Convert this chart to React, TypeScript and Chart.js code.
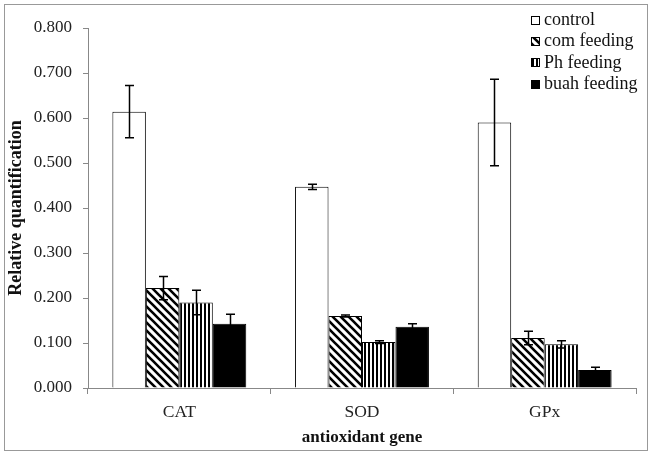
import React, { useEffect, useRef } from "react";
import { Chart, registerables } from "chart.js";

Chart.register(...registerables);

const categories = ["CAT", "SOD", "GPx"];
const seriesNames = ["control", "com feeding", "Ph feeding", "buah feeding"];
const controlValues = [0.614, 0.447, 0.59];
const controlErrors = [0.058, 0.006, 0.096];
const comValues = [0.222, 0.16, 0.111];
const comErrors = [0.026, 0.002, 0.015];
const phValues = [0.19, 0.102, 0.097];
const phErrors = [0.027, 0.003, 0.008];
const buahValues = [0.143, 0.136, 0.04];
const buahErrors = [0.021, 0.007, 0.006];
const yMin = 0;
const yMax = 0.8;
const yStep = 0.1;
const yTitle = "Relative quantification";
const xTitle = "antioxidant gene";

const SERIF = "'Liberation Serif', 'Times New Roman', serif";

function makeDiagonal(): CanvasPattern | string {
  const c = document.createElement("canvas");
  c.width = 8;
  c.height = 8;
  const g = c.getContext("2d");
  if (!g) return "#888";
  g.fillStyle = "#fff";
  g.fillRect(0, 0, 8, 8);
  g.strokeStyle = "#000";
  g.lineWidth = 2.6;
  g.beginPath();
  for (const k of [-8, 0, 8]) {
    g.moveTo(k - 2, -2);
    g.lineTo(k + 10, 10);
  }
  g.stroke();
  return g.createPattern(c, "repeat") || "#888";
}

function makeVertical(): CanvasPattern | string {
  const c = document.createElement("canvas");
  c.width = 4;
  c.height = 4;
  const g = c.getContext("2d");
  if (!g) return "#888";
  g.fillStyle = "#fff";
  g.fillRect(0, 0, 4, 4);
  g.fillStyle = "#000";
  g.fillRect(0, 0, 2, 4);
  return g.createPattern(c, "repeat") || "#888";
}

export default function App() {
  const ref = useRef<HTMLCanvasElement | null>(null);

  useEffect(() => {
    if (!ref.current) return;
    const fills = ["#ffffff", makeDiagonal(), makeVertical(), "#000000"];
    const values = [controlValues, comValues, phValues, buahValues];
    const errors = [controlErrors, comErrors, phErrors, buahErrors];

    const errorBars = {
      id: "errorBars",
      afterDatasetsDraw(chart: any) {
        const ctx = chart.ctx;
        const ys = chart.scales.y;
        ctx.save();
        ctx.strokeStyle = "#000";
        ctx.lineWidth = 1.5;
        chart.data.datasets.forEach((ds: any, di: number) => {
          const meta = chart.getDatasetMeta(di);
          meta.data.forEach((bar: any, i: number) => {
            const v = ds.data[i];
            const e = ds.errors[i];
            const x = Math.round(bar.x) + 0.5;
            const yt = ys.getPixelForValue(v + e);
            const yb = ys.getPixelForValue(v - e);
            ctx.beginPath();
            ctx.moveTo(x, yt);
            ctx.lineTo(x, yb);
            ctx.moveTo(x - 4.5, yt);
            ctx.lineTo(x + 4.5, yt);
            ctx.moveTo(x - 4.5, yb);
            ctx.lineTo(x + 4.5, yb);
            ctx.stroke();
          });
        });
        ctx.restore();
      },
    };

    const legendPlugin = {
      id: "customLegend",
      afterDraw(chart: any) {
        const ctx = chart.ctx;
        ctx.save();
        ctx.font = `18px ${SERIF}`;
        ctx.textBaseline = "middle";
        ctx.textAlign = "left";
        chart.data.datasets.forEach((ds: any, i: number) => {
          const y = 20.5 + i * 21.2;
          ctx.fillStyle = ds.backgroundColor;
          ctx.fillRect(531, Math.round(y - 4.5), 9, 9);
          ctx.strokeStyle = "#000";
          ctx.lineWidth = 1;
          ctx.strokeRect(531.5, Math.round(y - 4.5) + 0.5, 8, 8);
          ctx.fillStyle = "#111";
          ctx.fillText(ds.label, 544, y);
        });
        ctx.restore();
      },
    };

    const chart = new Chart(ref.current, {
      type: "bar",
      data: {
        labels: categories,
        datasets: seriesNames.map((name, i) => ({
          label: name,
          data: values[i],
          errors: errors[i],
          backgroundColor: fills[i] as any,
          borderColor: "#000",
          borderWidth: 1,
          categoryPercentage: 0.733,
          barPercentage: 1,
        })) as any,
      },
      options: {
        animation: false,
        responsive: false,
        maintainAspectRatio: false,
        layout: { padding: { top: 28, right: 20, bottom: 0, left: 0 } },
        plugins: {
          legend: { display: false },
          tooltip: { enabled: false },
        },
        scales: {
          x: {
            offset: true,
            grid: {
              offset: true,
              drawOnChartArea: false,
              drawTicks: true,
              tickLength: 6,
              color: "#888",
            },
            border: { display: true, color: "#888", width: 1 },
            ticks: {
              color: "#222",
              padding: 8,
              font: { family: SERIF, size: 17.5 },
            },
            title: {
              display: true,
              text: xTitle,
              color: "#111",
              font: { family: SERIF, size: 17, weight: "bold" },
              padding: { top: 11, bottom: 11 },
            },
            afterFit(scale: any) {
              scale.height = 71;
            },
          },
          y: {
            min: yMin,
            max: yMax,
            grid: {
              drawOnChartArea: false,
              drawTicks: true,
              tickLength: 5,
              color: "#888",
            },
            border: { display: true, color: "#888", width: 1 },
            ticks: {
              stepSize: yStep,
              color: "#222",
              padding: 11,
              font: { family: SERIF, size: 17 },
              callback: (v: any) => Number(v).toFixed(3),
            },
            title: {
              display: true,
              text: yTitle,
              color: "#111",
              font: { family: SERIF, size: 18, weight: "bold" },
              padding: { top: 6, bottom: 6 },
            },
            afterFit(scale: any) {
              scale.width = 88;
            },
          },
        },
      },
      plugins: [errorBars, legendPlugin],
    });
    return () => chart.destroy();
  }, []);

  return (
    <div style={{ position: "absolute", left: 0, top: 0, width: 656, height: 459, background: "#fff" }}>
      <div
        style={{
          position: "absolute",
          left: 4,
          top: 4,
          width: 642,
          height: 445,
          border: "1px solid #999",
        }}
      />
      <canvas
        ref={ref}
        width={656}
        height={459}
        style={{ position: "absolute", left: 0, top: 0, width: 656, height: 459 }}
      />
    </div>
  );
}
